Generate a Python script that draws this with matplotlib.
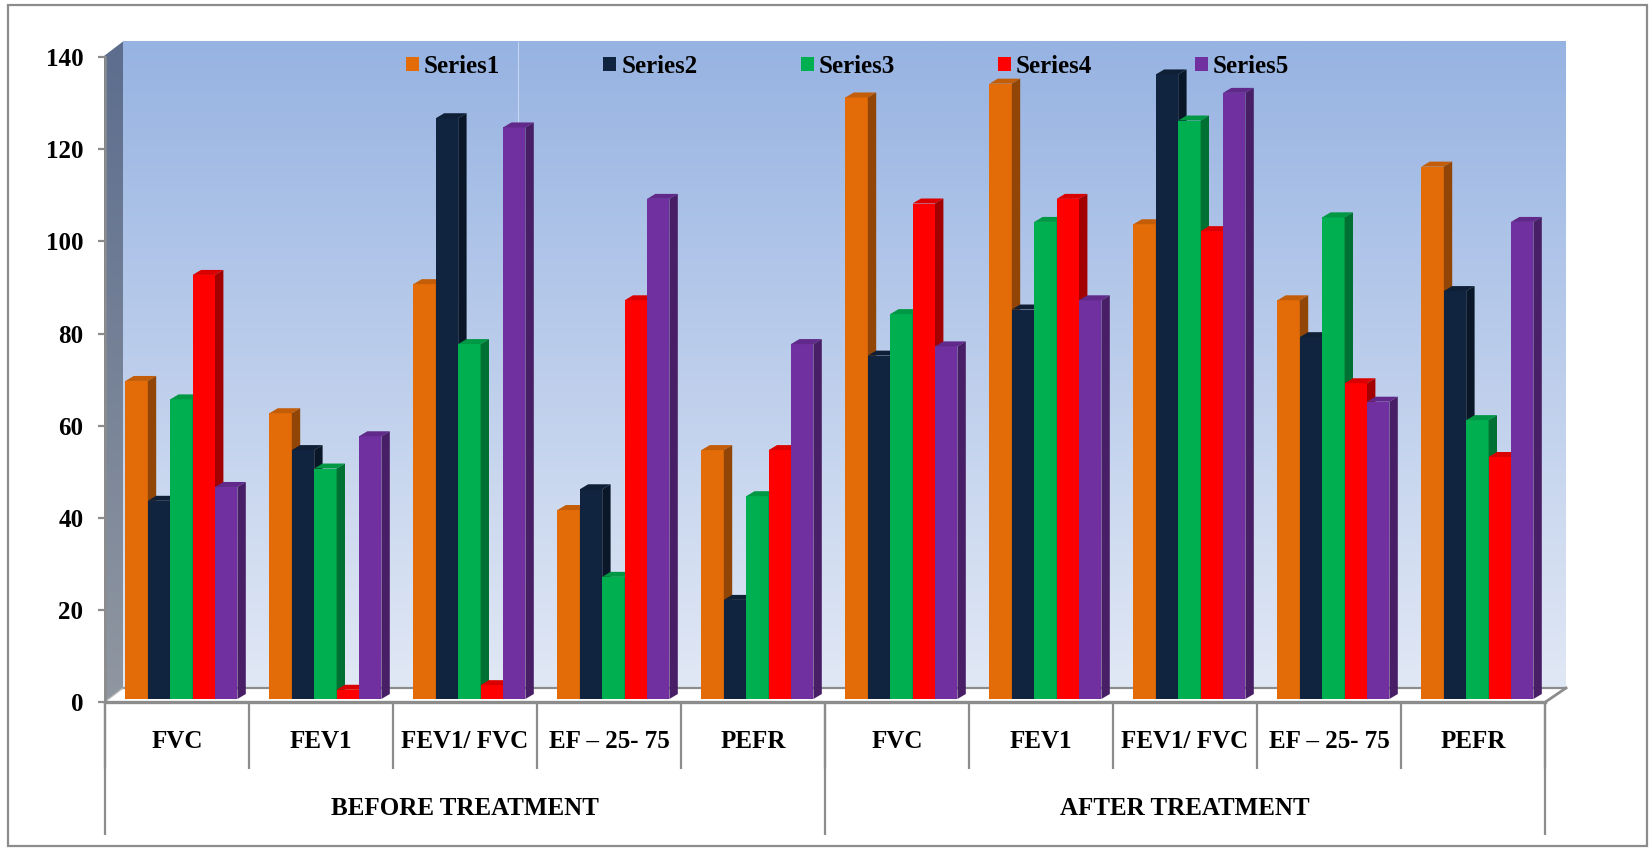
import numpy as np
import matplotlib
matplotlib.use("Agg")
import matplotlib.pyplot as plt
from matplotlib.patches import Polygon, Rectangle, Patch
from matplotlib.colors import to_rgb, LinearSegmentedColormap
import matplotlib.transforms as mtransforms

# ---- data -------------------------------------------------------------
phases = ["BEFORE TREATMENT", "AFTER TREATMENT"]
tests = ["FVC", "FEV1", "FEV1/ FVC", "EF – 25- 75", "PEFR"]
series_names = ["Series1", "Series2", "Series3", "Series4", "Series5"]
series1 = [69, 62, 90, 41, 54, 130.5, 133.5, 103, 86.5, 115.5]
series2 = [43, 54, 126, 45.5, 21.5, 74.5, 84.5, 135.5, 78.5, 88.5]
series3 = [65, 50, 77, 26.5, 44, 83.5, 103.5, 125.5, 104.5, 60.5]
series4 = [92, 2, 3, 86.5, 54, 107.5, 108.5, 101.5, 68.5, 52.5]
series5 = [46, 57, 124, 108.5, 77, 76.5, 86.5, 131.5, 64.5, 103.5]
y_ticks = [0, 20, 40, 60, 80, 100, 120, 140]

colors = ["#E36C09", "#10243F", "#00B050", "#FF0000", "#7030A0"]
categories = tests * len(phases)
all_series = [series1, series2, series3, series4, series5]

# ---- figure geometry (pixels) -----------------------------------------
W, H, DPI = 1652, 849, 100
FONT = "Liberation Serif"
FS = 18
GRAY = "#8c8c8c"

fig = plt.figure(figsize=(W / DPI, H / DPI), dpi=DPI)


def rect(l, t, r, b):
    return [l / W, 1 - b / H, (r - l) / W, (b - t) / H]


# background layer in pixel units: frame, walls and floor
bg = fig.add_axes([0, 0, 1, 1], zorder=0)
bg.set_xlim(0, W)
bg.set_ylim(H, 0)
bg.axis("off")

bg.add_patch(Rectangle((8, 5), 1639, 841, fill=False, ec=GRAY, lw=1.6))

# back wall with vertical gradient
wall_l, wall_t, wall_r, wall_b = 123, 41.5, 1566, 688
wall_cmap = LinearSegmentedColormap.from_list("wall", ["#97b3e2", "#e1e8f5"])
grad = np.linspace(0, 1, 256).reshape(-1, 1)
bg.imshow(grad, cmap=wall_cmap, extent=[wall_l, wall_r, wall_b, wall_t],
          aspect="auto", zorder=1, interpolation="bilinear")
bg.plot([518, 518], [wall_t, wall_b], color="#d4def2", lw=0.8, alpha=0.8, zorder=1.1)

# left side wall
side_cmap = LinearSegmentedColormap.from_list("side", ["#5c6d8e", "#9097a1"])
side_poly = Polygon([(104, 56), (wall_l, wall_t), (wall_l, wall_b), (104, 702.3)],
                    closed=True, fc="none", ec="none")
bg.add_patch(side_poly)
im = bg.imshow(grad, cmap=side_cmap, extent=[104, wall_l, 702.3, wall_t],
               aspect="auto", zorder=1, interpolation="bilinear")
im.set_clip_path(side_poly)

# floor
bg.add_patch(Polygon([(104, 702.3), (1545, 702.3), (wall_r, wall_b), (wall_l, wall_b)],
                     closed=True, fc="white", ec="none", zorder=1.2))
bg.plot([wall_l, wall_r], [wall_b, wall_b], color=GRAY, lw=1.6, zorder=1.3)
bg.plot([1545, wall_r], [702.3, wall_b], color=GRAY, lw=2.0, zorder=1.3)
bg.plot([104, wall_l], [702.3, wall_b], color="#b4b4b4", lw=1.0, zorder=1.3)

# ---- front axis: value ticks and category labels -----------------------
axf = fig.add_axes(rect(105, 57, 1545, 702.3), zorder=1)
axf.patch.set_visible(False)
axf.set_xlim(-0.5, len(categories) - 0.5)
axf.set_ylim(0, 140)
for s in ("top", "right"):
    axf.spines[s].set_visible(False)
axf.spines["left"].set_color(GRAY)
axf.spines["left"].set_linewidth(1.8)
axf.spines["bottom"].set_color(GRAY)
axf.spines["bottom"].set_linewidth(2.4)
axf.set_yticks(y_ticks)
axf.set_yticklabels([str(t) for t in y_ticks], fontfamily=FONT,
                    fontweight="bold", fontsize=FS)
axf.tick_params(axis="y", length=5, width=1.6, color=GRAY, pad=10.5)

bounds = np.arange(len(categories) + 1) - 0.5
axf.set_xticks(bounds)
axf.set_xticklabels([])
axf.tick_params(axis="x", which="major", length=48, width=1.6, color=GRAY)
axf.set_xticks(np.arange(len(categories)), minor=True)
axf.set_xticklabels(categories, minor=True, fontfamily=FONT,
                    fontweight="bold", fontsize=FS)
axf.tick_params(axis="x", which="minor", length=0, pad=20)

blend = mtransforms.blended_transform_factory(axf.transData, axf.transAxes)
n_t = len(tests)
for g, name in enumerate(phases):
    axf.text(g * n_t + (n_t - 1) / 2, -0.165, name, transform=blend,
             ha="center", va="center", fontfamily=FONT, fontweight="bold",
             fontsize=FS)
for xb in (-0.5, n_t - 0.5, 2 * n_t - 0.5):
    axf.plot([xb, xb], [0, -0.2056], transform=blend, color=GRAY, lw=1.6,
             clip_on=False, solid_capstyle="butt")

# ---- bars (3-D style columns) ----------------------------------------
ax = fig.add_axes(rect(109.4, 53.7, 1549.4, 699), zorder=2)
ax.patch.set_visible(False)
ax.set_xlim(-0.5, len(categories) - 0.5)
ax.set_ylim(0, 140)
ax.axis("off")

px_x = 1440 / len(categories)          # pixels per category
px_y = 645.3 / 140                     # pixels per value unit
bw = 22.4 / px_x
ddx = 8.4 / px_x
ddy = 5.0 / px_y
x = np.arange(len(categories))


def shade(c, f):
    r, g, b = to_rgb(c)
    return (r * f, g * f, b * f)


for k, (vals, col) in enumerate(zip(all_series, colors)):
    xs = x + (k - 2) * bw
    bars = ax.bar(xs, vals, width=bw, color=col, linewidth=0,
                  label=series_names[k], clip_on=False)
    for i, (bar, v) in enumerate(zip(bars, vals)):
        z = 3 + (i * len(all_series) + k) * 0.01
        bar.set_zorder(z)
        x0 = bar.get_x()
        x1 = x0 + bar.get_width()
        top = Polygon([(x0, v), (x1, v), (x1 + ddx, v + ddy), (x0 + ddx, v + ddy)],
                      closed=True, fc=shade(col, 0.86), ec="none",
                      zorder=z + 0.001, clip_on=False)
        side = Polygon([(x1, 0), (x1, v), (x1 + ddx, v + ddy), (x1 + ddx, ddy)],
                       closed=True, fc=shade(col, 0.64), ec="none",
                       zorder=z + 0.002, clip_on=False)
        ax.add_patch(top)
        ax.add_patch(side)

handles = [Patch(fc=c, ec="none", label=n) for c, n in zip(colors, series_names)]
ax.legend(handles=handles, loc="center left",
          bbox_to_anchor=(406 / W, 1 - 66.5 / H), bbox_transform=fig.transFigure,
          ncol=5, frameon=False, borderpad=0, borderaxespad=0,
          handlelength=0.52, handleheight=0.52, handletextpad=0.2,
          columnspacing=4.12,
          prop={"family": FONT, "weight": "bold", "size": FS})

fig.savefig("out.png", dpi=DPI)
